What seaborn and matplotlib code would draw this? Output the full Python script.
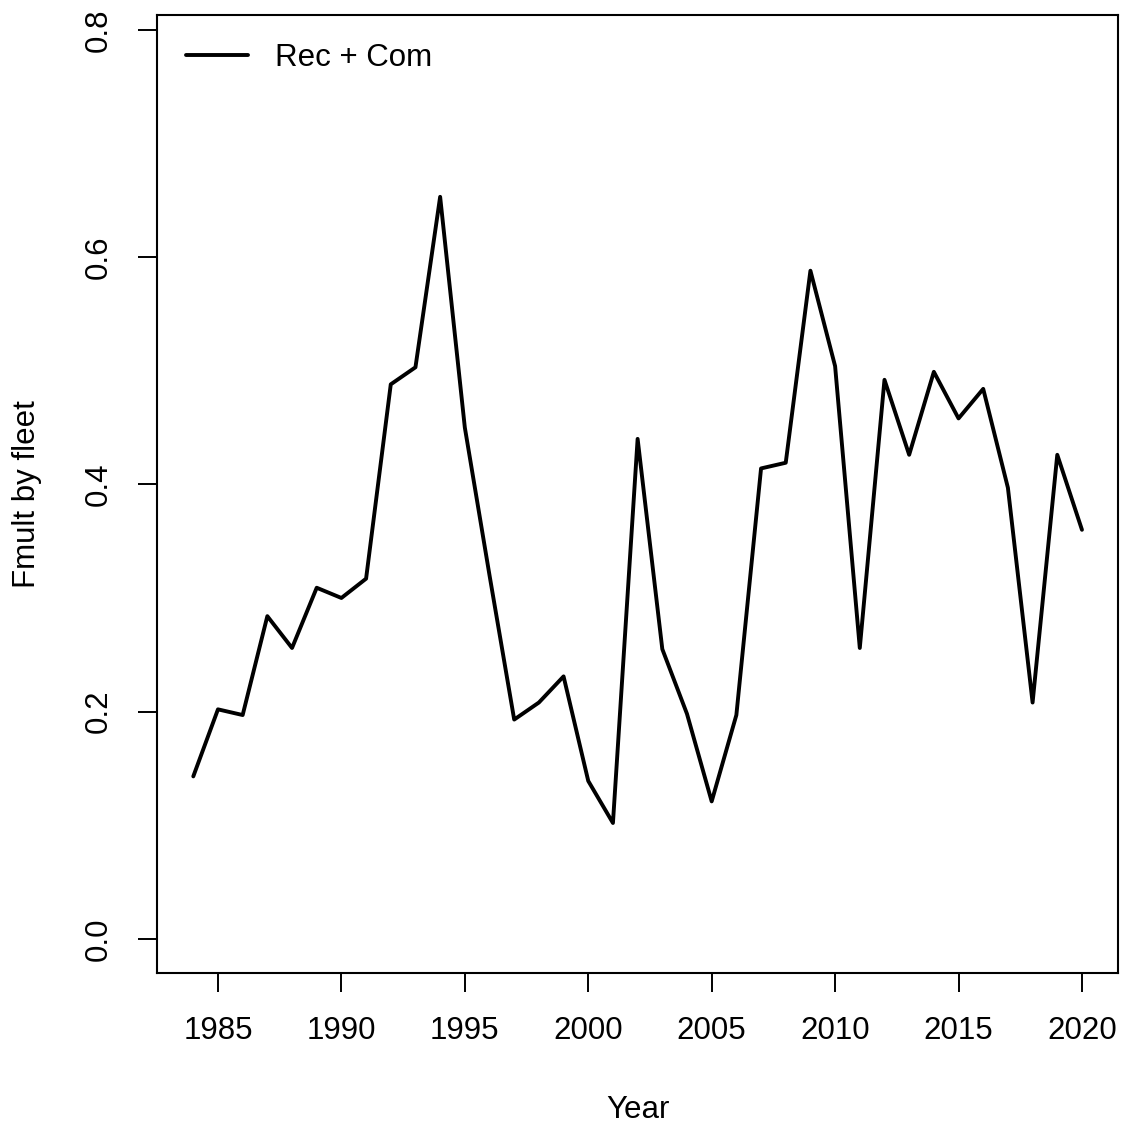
import pandas as pd
import seaborn as sns
import matplotlib
matplotlib.use('Agg')
import matplotlib.pyplot as plt

# Dados
anos = list(range(1984, 2021))
fmult = [0.143, 0.202, 0.197, 0.284, 0.256, 0.309, 0.300, 0.317, 0.488, 0.503,
         0.653, 0.450, 0.320, 0.193, 0.208, 0.231, 0.139, 0.102, 0.440, 0.255,
         0.198, 0.121, 0.197, 0.414, 0.419, 0.588, 0.504, 0.256, 0.492, 0.426,
         0.499, 0.458, 0.484, 0.397, 0.208, 0.426, 0.360]
serie = 'Rec + Com'

df = pd.DataFrame({'Year': anos, 'Fmult': fmult, 'fleet': serie})

sns.set_style('ticks')
plt.rcParams['font.family'] = ['Liberation Sans', 'DejaVu Sans']
plt.rcParams['text.color'] = 'black'
plt.rcParams['axes.labelcolor'] = 'black'
plt.rcParams['xtick.color'] = 'black'
plt.rcParams['ytick.color'] = 'black'

fig = plt.figure(figsize=(11.23, 11.26), dpi=100)
ax = fig.add_axes([157/1123, 1 - 973/1126, (1118 - 157)/1123, (973 - 15)/1126])

sns.lineplot(data=df, x='Year', y='Fmult', hue='fleet', palette=['black'],
             linewidth=2.8, ax=ax)

ax.set_xlim(1982.53, 2021.46)
ax.set_ylim(-0.030, 0.813)
ax.set_xticks([1985, 1990, 1995, 2000, 2005, 2010, 2015, 2020])
ax.set_yticks([0.0, 0.2, 0.4, 0.6, 0.8])
ax.set_yticklabels(['0.0', '0.2', '0.4', '0.6', '0.8'], rotation=90, va='center')
ax.tick_params(axis='both', labelsize=22.5, length=14, width=1.4, pad=17)

for s in ax.spines.values():
    s.set_visible(True)
    s.set_linewidth(1.5)
    s.set_color('black')

ax.set_xlabel('Year', fontsize=22.5, labelpad=35)
ax.set_ylabel('Fmult by fleet', fontsize=22.5, labelpad=30)

leg = ax.legend(loc='upper left', frameon=False, fontsize=22.5, handlelength=2.0,
                handletextpad=0.85, borderaxespad=0.2, bbox_to_anchor=(0.0104, 0.990))
for l in leg.get_lines():
    l.set_linewidth(2.8)

fig.savefig('out.png', dpi=100)
